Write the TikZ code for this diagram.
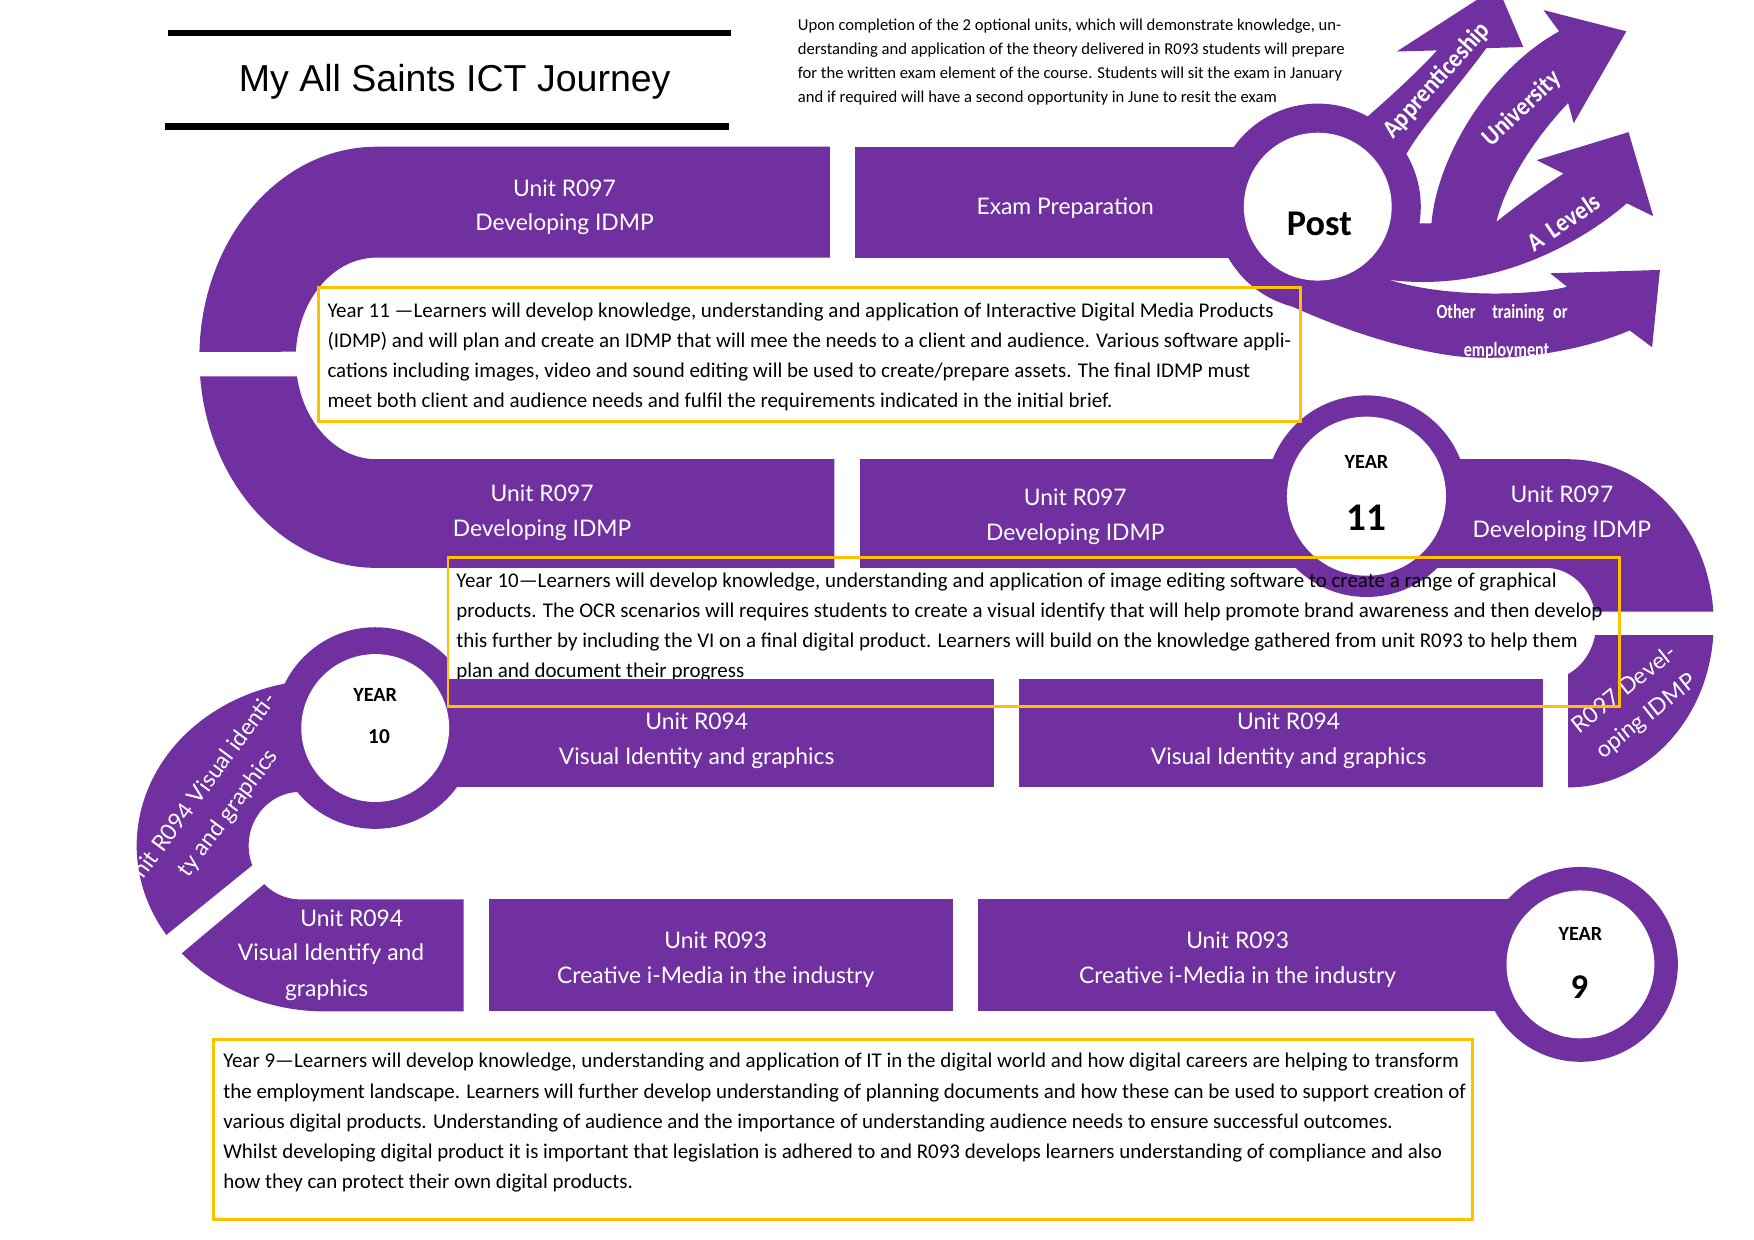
\documentclass[tikz,border=0pt]{standalone}
\usepackage{fontspec}
\setmainfont{Carlito}
\newfontfamily\unitfont{Lato}
\newfontfamily\titlefont{Liberation Sans}
\newfontfamily\arrowfont{Carlito}[FakeStretch=0.9]
\newfontfamily\arrowfontc{Carlito}[FakeStretch=0.8]
\definecolor{pur}{HTML}{7030A0}
\definecolor{gold}{HTML}{FFC000}
\tikzset{
  purp/.style={fill=pur},
  wfill/.style={fill=white},
  unitlbl/.style={text=white,font=\unitfont\fontsize{10.2}{15.5}\selectfont,align=center,inner sep=0pt},
  bodyline/.style={anchor=base west,inner sep=0pt,font=\fontsize{9.35}{11}\selectfont},
  introline/.style={anchor=base west,inner sep=0pt,font=\fontsize{7.42}{8.5}\selectfont},
  yellowbox/.style={draw=gold,line width=1.3pt},
  yearsmall/.style={font=\bfseries\fontsize{9}{10}\selectfont,inner sep=0pt},
  arrowlbl/.style={text=white,font=\arrowfont\bfseries\fontsize{11.5}{13}\selectfont,inner sep=0pt},
  arrowlblc/.style={text=white,font=\arrowfontc\bfseries\fontsize{9}{11}\selectfont,inner sep=0pt},
  titlerule/.style={line width=2.9pt},
}
\begin{document}
\begin{tikzpicture}[x=0.5pt,y=-0.5pt]
\useasboundingbox (0,0) rectangle (1566,1107);
\clip (0,0) rectangle (1566,1107);

% ---------- title ----------
\coordinate (ta) at (150,29.5); \coordinate (tb) at (653,29.5);
\coordinate (tc) at (147,113); \coordinate (td) at (651,113);
\draw[titlerule] (ta) -- (tb);
\draw[titlerule] (tc) -- (td);
\node[font=\titlefont\fontsize{16.75}{20}\selectfont,anchor=base,inner sep=0pt] (title) at (406,82) {My All Saints ICT Journey};

% ---------- intro text ----------
\foreach \t [count=\i from 0] in {{Upon completion of the 2 optional units, which will demonstrate knowledge, un-},{derstanding and application of the theory delivered in R093 students will prepare},{for the written exam element of the course. Students will sit the exam in January},{and if required will have a second opportunity in June to resit the exam}}
  \node[introline] (intro\i) at (712,27+21.5*\i) {\t};

% ---------- top / middle rows ----------
\fill[purp] (741,131) -- (336,131) arc[start angle=270,end angle=181.5,x radius=158,y radius=188]
  -- (264.16,314.04) arc[start angle=183.8,end angle=270,x radius=72,y radius=90] -- (741,230) -- cycle;
\fill[purp] (745,507) -- (336,507) arc[start angle=90,end angle=174.81,x radius=158,y radius=188]
  -- (265.15,336) arc[start angle=169.76,end angle=90,x radius=72,y radius=90] -- (745,410) -- cycle;
\fill[purp] (763,131) rectangle (1150,230);
\fill[purp] (768,410) rectangle (1220,507);
\fill[purp] (1220,410) -- (1400,410) arc[start angle=270,end angle=355.89,x radius=130,y radius=146.5]
  -- (1423.9,546) arc[start angle=347.29,end angle=270,x radius=45,y radius=50] -- (1220,507) -- cycle;
\fill[purp] (1424.1,567) -- (1529.67,567) arc[start angle=4.11,end angle=90,x radius=130,y radius=146.5]
  -- (1400,601.8) arc[start angle=63.6,end angle=11.54,x radius=45,y radius=50] -- cycle;

% ---------- post arrows ----------
\fill[purp] (1205,118) .. controls (1235,92) and (1262,68) .. (1283,45) -- (1247,46) -- (1337,-12) -- (1360,42) -- (1327,43)
  .. controls (1300,80) and (1270,112) .. (1256,137) -- (1235,150) -- cycle;
\fill[purp] (1250,199.4) -- (1278,199.4) .. controls (1283,140) and (1330,62) .. (1392,28)
  -- (1378,9) -- (1452,28) -- (1405,110) -- (1400,92)
  .. controls (1375,118) and (1345,160) .. (1336,198)
  .. controls (1355,183) and (1375,168) .. (1396,155)
  -- (1372,143) -- (1454,118) -- (1476,193) -- (1452.4,181.5)
  .. controls (1420,210) and (1340,262) .. (1241,250) -- cycle;
\fill[purp] (1160,240) -- (1150,272) .. controls (1185,288) and (1240,310) .. (1300,318)
  .. controls (1360,324) and (1420,310) .. (1455,295)
  -- (1475,310) -- (1482,241) -- (1384,244) -- (1399,256)
  .. controls (1370,264) and (1290,266) .. (1241,250) -- cycle;
\fill[purp] (1176.5,184.5) circle[radius=92];

% ---------- year 11 ring ----------
\fill[purp] (1220,443) circle[radius=90];

% ---------- lower left and bottom row ----------
\fill[purp] (148.5,834.7) arc[start angle=147.4,end angle=290,x radius=168,y radius=148]
  -- (335,650) -- (268,707) arc[start angle=270,end angle=158.5,x radius=46,y radius=48] -- cycle;
\fill[purp] (235.93,789.4) arc[start angle=134.2,end angle=90,x radius=46,y radius=48]
  -- (414,803) -- (414,903) -- (290,903) arc[start angle=90,end angle=139.5,x radius=168,y radius=148] -- cycle;
\fill[purp] (437,803) rectangle (851,903);
\fill[purp] (873,803) rectangle (1411,903);
\fill[purp] (1411,861) circle[radius=87];

% ---------- year 10 ring ----------
\fill[purp] (335,650) circle[radius=90];
\fill[wfill] (400,540) rectangle (432,606);

% ---------- white discs ----------
\fill[wfill] (1176.5,184.5) circle[radius=66];
\fill[wfill] (1220,443) circle[radius=71];
\fill[wfill] (1411,861) circle[radius=66];

% ---------- body texts ----------
\foreach \t [count=\i from 0] in {{Year 11 —Learners will develop knowledge, understanding and application of Interactive Digital Media Products},{(IDMP) and will plan and create an IDMP that will mee the needs to a client and audience. Various software appli-},{cations including images, video and sound editing will be used to create/prepare assets. The final IDMP must},{meet both client and audience needs and fulfil the requirements indicated in the initial brief.}}
  \node[bodyline] (yeleven\i) at (292,283.6+26.7*\i) {\t};

\foreach \t [count=\i from 0] in {{Year 9—Learners will develop knowledge, understanding and application of IT in the digital world and how digital careers are helping to transform},{the employment landscape. Learners will further develop understanding of planning documents and how these can be used to support creation of},{various digital products. Understanding of audience and the importance of understanding audience needs to ensure successful outcomes.},{Whilst developing digital product it is important that legislation is adhered to and R093 develops learners understanding of compliance and also},{how they can protect their own digital products.}}
  \node[bodyline] (ynine\i) at (199,953.5+27*\i) {\t};

\foreach \t [count=\i from 0] in {{Year 10—Learners will develop knowledge, understanding and application of image editing software to create a range of graphical},{products. The OCR scenarios will requires students to create a visual identify that will help promote brand awareness and then develop},{this further by including the VI on a final digital product. Learners will build on the knowledge gathered from unit R093 to help them},{plan and document their progress}}
  \node[bodyline] (yten\i) at (407,524.5+26.8*\i) {\t};

% ---------- R094 row ----------
\fill[purp] (335,606) rectangle (887,703);
\fill[purp] (910,606) rectangle (1378,703);
\fill[wfill] (335,650) circle[radius=66];

% ---------- unit labels ----------
\node[unitlbl] (ua) at (504,185) {Unit R097\\Developing IDMP};
\node[unitlbl] (ub) at (951,186) {Exam Preparation};
\node[unitlbl] (uc) at (484,457.5) {Unit R097\\Developing IDMP};
\node[unitlbl] (ud) at (960,461.5) {Unit R097\\Developing IDMP};
\node[unitlbl] (ue) at (1394.5,458.8) {Unit R097\\Developing IDMP};
\node[unitlbl] (uf) at (622,661.5) {Unit R094\\Visual Identity and graphics};
\node[unitlbl] (ug) at (1150.5,661.5) {Unit R094\\Visual Identity and graphics};
\node[unitlbl] (uh) at (639,856.5) {Unit R093\\Creative i-Media in the industry};
\node[unitlbl] (ui) at (1105,856.5) {Unit R093\\Creative i-Media in the industry};
\node[unitlbl] (uj1) at (314,820) {Unit R094};
\node[unitlbl] (uj2) at (295.5,852) {Visual Identify and};
\node[unitlbl] (uj3) at (291.7,884) {graphics};
\node[unitlbl,rotate=53.5] (uk) at (191.5,717) {Unit R094 Visual identi-\\ty and graphics};
\node[unitlbl,rotate=38.5] (ul) at (1460.5,628) {R097 Devel-\\oping IDMP};

% ---------- year labels ----------
\node[yearsmall] (yrA) at (1220,412) {YEAR};
\node[font=\bfseries\fontsize{17.5}{20}\selectfont,inner sep=0pt] (numA) at (1220,462) {11};
\node[yearsmall] (yrB) at (335,620.5) {YEAR};
\node[font=\bfseries\fontsize{9.5}{11}\selectfont,inner sep=0pt] (numB) at (338.4,658) {10};
\node[yearsmall] (yrC) at (1411,834) {YEAR};
\node[font=\bfseries\fontsize{15.5}{18}\selectfont,inner sep=0pt] (numC) at (1410,881) {9};
\node[font=\bfseries\fontsize{16.2}{19}\selectfont,inner sep=0pt] (post) at (1178,200) {Post};

% ---------- arrow labels ----------
\node[arrowlbl,rotate=48] (lapp) at (1283,72) {Apprenticeship};
\node[arrowlbl,rotate=43] (luni) at (1359,97) {University};
\node[arrowlbl,rotate=34] (lalev) at (1396,198) {A\hspace{4pt}Levels};
\node[arrowlblc] (loth) at (1341,280) {Other\hspace{7.5pt}training\hspace{4pt}or};
\node[arrowlblc] (lemp) at (1345,313) {employment};

% ---------- yellow boxes ----------
\draw[yellowbox] (284,257) rectangle (1161,376);
\draw[yellowbox] (400,498) rectangle (1446,631);
\draw[yellowbox] (191,928) rectangle (1315,1089);
\end{tikzpicture}
\end{document}
